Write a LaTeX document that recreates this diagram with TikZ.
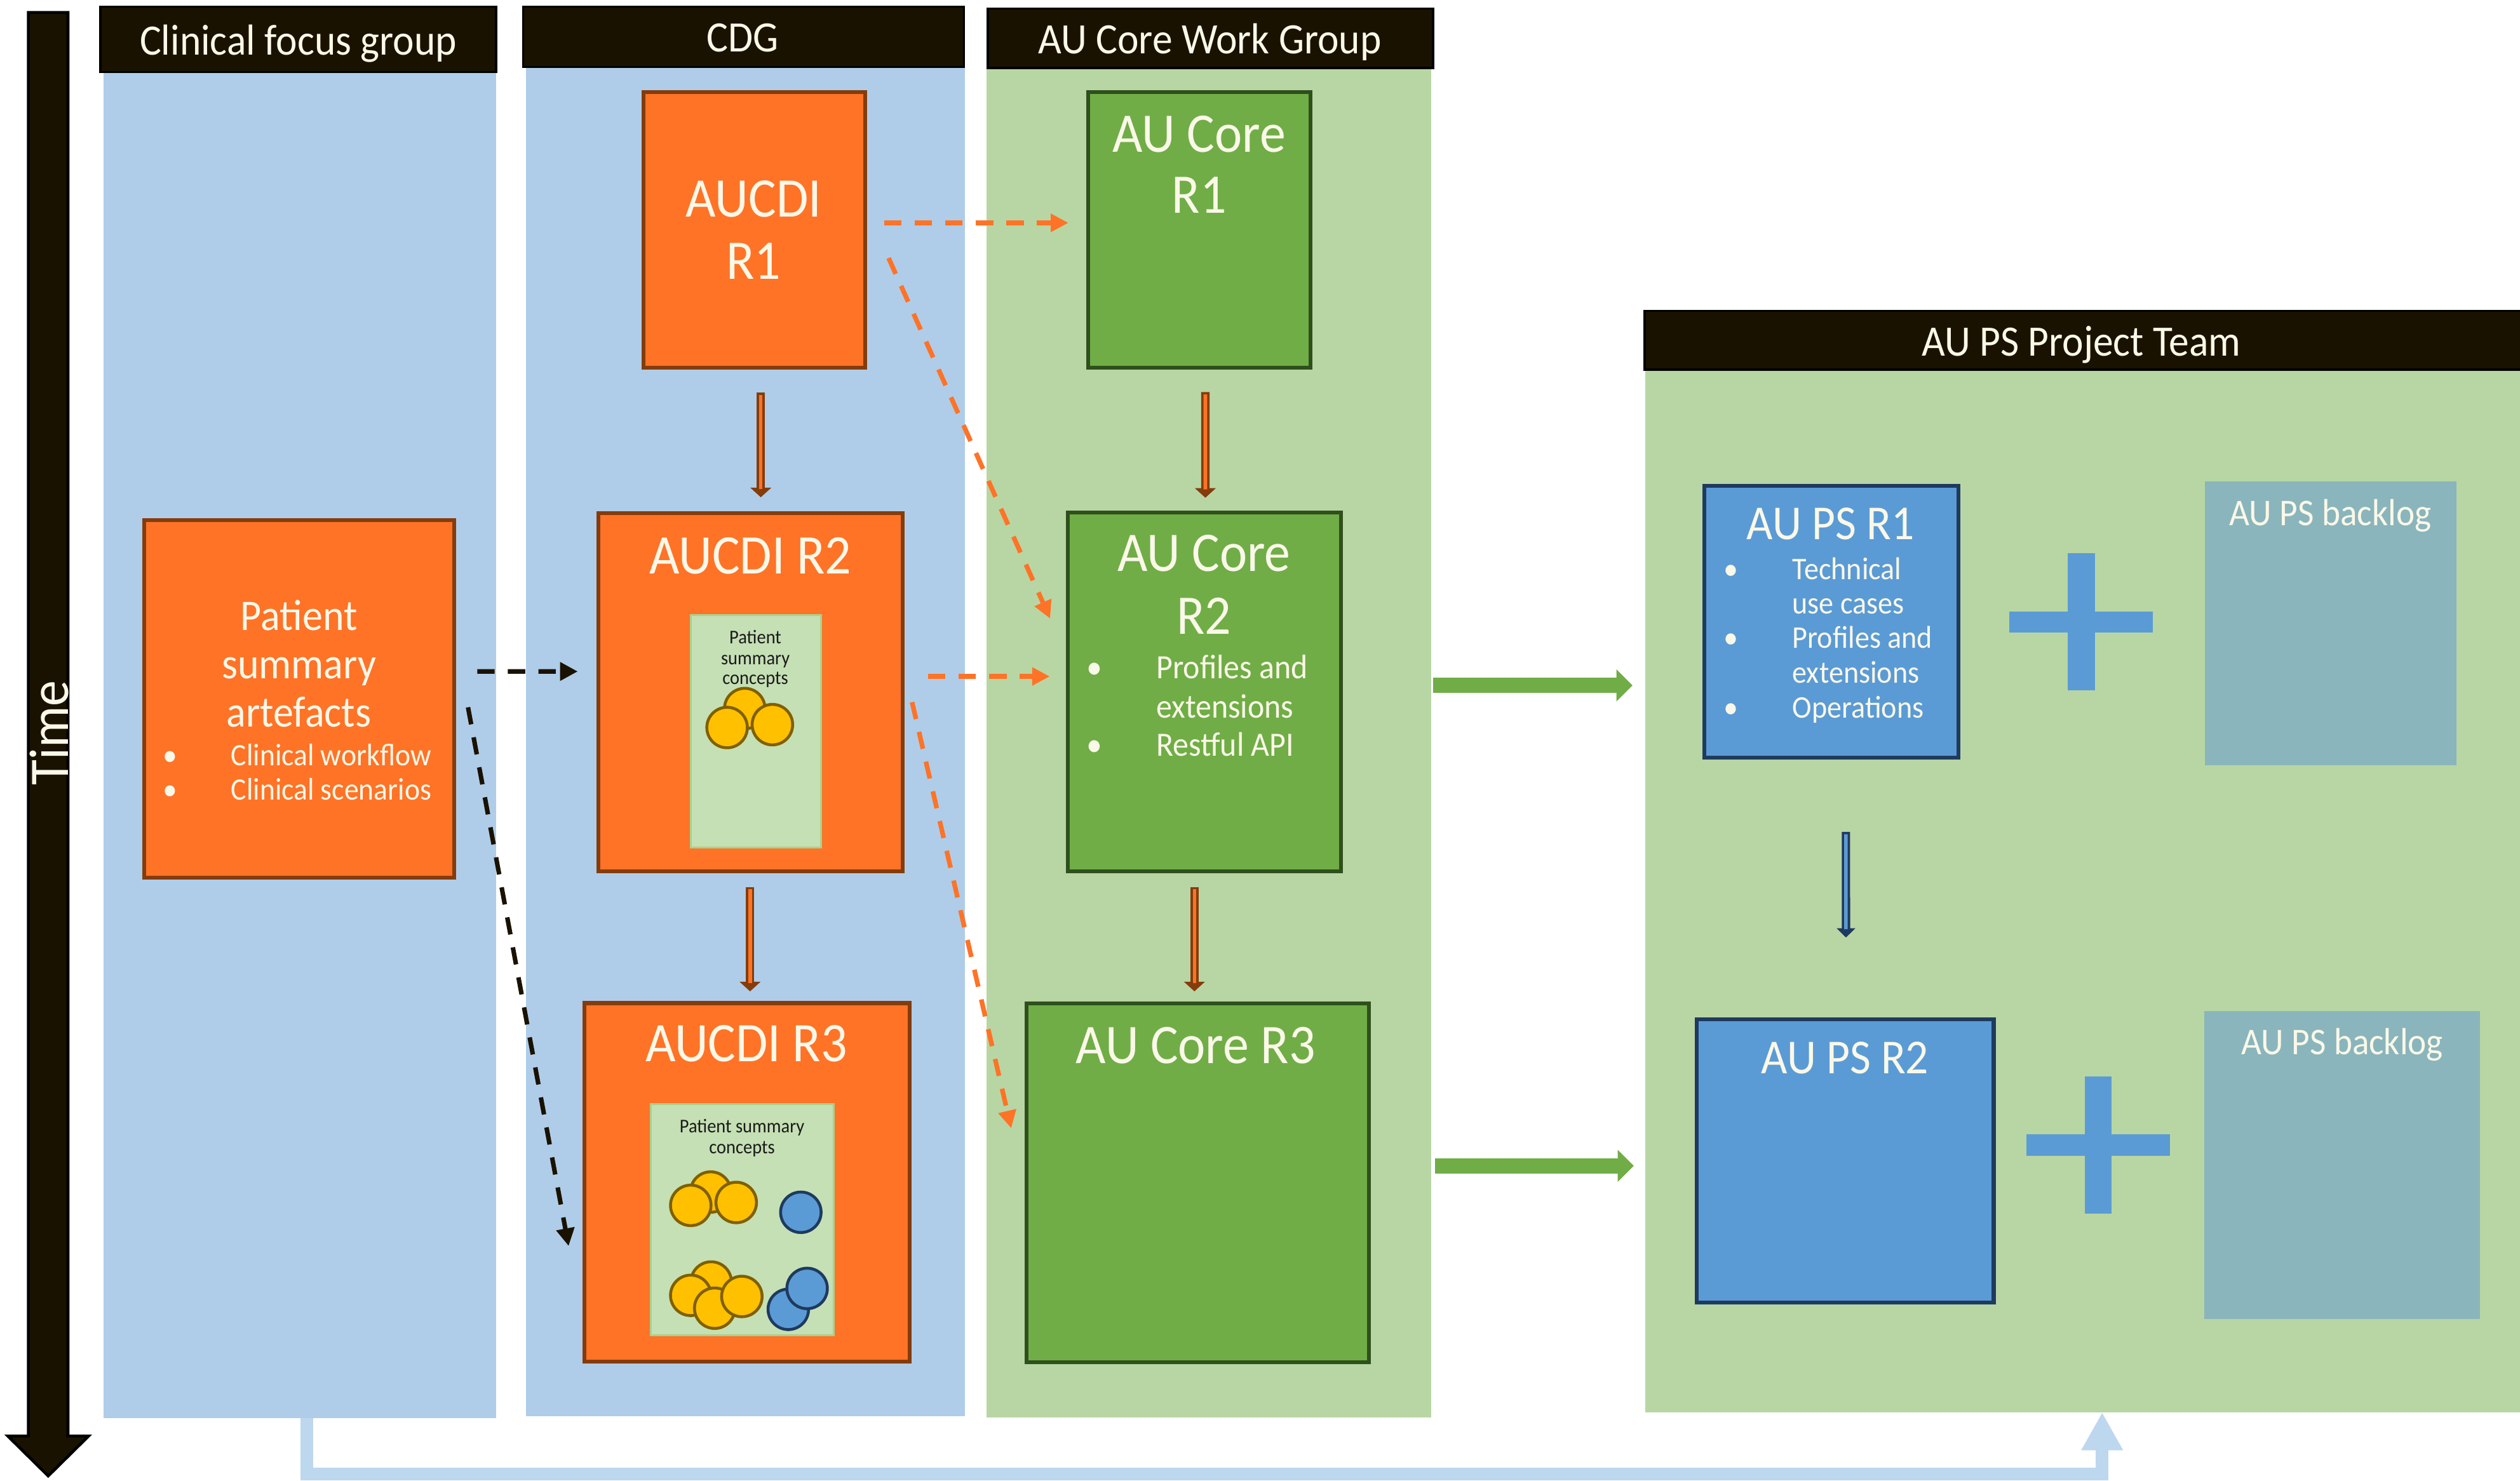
\documentclass[tikz,border=0pt]{standalone}
\usepackage{fontspec}
\setmainfont{Carlito}[FakeStretch=0.93]
\usetikzlibrary{arrows.meta,fit}
\definecolor{chdr}{HTML}{1A1200}
\definecolor{ccolblue}{HTML}{AFCDE9}
\definecolor{ccolgreen}{HTML}{B8D6A4}
\definecolor{cobox}{HTML}{FF7327}
\definecolor{coedge}{HTML}{843C0C}
\definecolor{cgbox}{HTML}{70AD47}
\definecolor{cgedge}{HTML}{2F4F1C}
\definecolor{ccbox}{HTML}{C5E0B4}
\definecolor{ccedge}{HTML}{A9D18E}
\definecolor{cbbox}{HTML}{5B9BD5}
\definecolor{cbedge}{HTML}{1F3A5F}
\definecolor{cblog}{HTML}{8AB5BC}
\definecolor{cylw}{HTML}{FFC000}
\definecolor{cyedge}{HTML}{7F6000}
\definecolor{ccream}{HTML}{FAF8E8}
\definecolor{clbl}{HTML}{BDD7EE}
\definecolor{cdark}{HTML}{1A1A1A}
\tikzset{
  area/.style={draw=none, inner sep=0pt, outer sep=0pt},
  hdrbox/.style={fill=chdr, draw=black, line width=0.7pt, inner sep=0pt, outer sep=0pt},
  orangebox/.style={fill=cobox, draw=coedge, line width=1.2pt, inner sep=0pt, outer sep=0pt},
  greenbox/.style={fill=cgbox, draw=cgedge, line width=1.2pt, inner sep=0pt, outer sep=0pt},
  bluebox/.style={fill=cbbox, draw=cbedge, line width=1.2pt, inner sep=0pt, outer sep=0pt},
  conceptbox/.style={fill=ccbox, draw=ccedge, line width=0.6pt, inner sep=0pt, outer sep=0pt},
  backlogbox/.style={fill=cblog, draw=none, inner sep=0pt, outer sep=0pt},
  ycirc/.style={circle, fill=cylw, draw=cyedge, line width=0.9pt, minimum size=12.6pt, inner sep=0pt},
  bcirc/.style={circle, fill=cbbox, draw=cbedge, line width=0.9pt, minimum size=12.6pt, inner sep=0pt},
  txt/.style={text=ccream, inner sep=0pt, outer sep=0pt, anchor=base},
  txtl/.style={txt, anchor=base west},
  fhead/.style={font=\fontsize{13.5pt}{16pt}\selectfont},
  ftitle/.style={font=\fontsize{17.4pt}{20pt}\selectfont},
  fps/.style={font=\fontsize{15.2pt}{18pt}\selectfont},
  fblog/.style={font=\fontsize{11.75pt}{14pt}\selectfont},
  fpsa/.style={font=\fontsize{13.6pt}{16pt}\selectfont},
  fbulA/.style={font=\fontsize{9.7pt}{12pt}\selectfont},
  fbulB/.style={font=\fontsize{10.6pt}{13pt}\selectfont},
  fbulC/.style={font=\fontsize{9.8pt}{12pt}\selectfont},
  fcon/.style={font=\fontsize{6.05pt}{7.5pt}\selectfont, text=cdark},
  ftime/.style={font=\fontsize{17.4pt}{20pt}\selectfont},
  odash/.style={draw=cobox, line width=1.45pt, dash pattern=on 5.4pt off 4.1pt, -{Triangle[length=5.5pt,width=5.4pt]}},
  kdash/.style={draw=chdr, line width=1.4pt, dash pattern=on 5.4pt off 4.1pt, -{Triangle[length=5.5pt,width=5.5pt]}},
  greenarr/.style={draw=cgbox, line width=4.75pt, -{Triangle[length=5pt,width=9.65pt]}},
  hollowout/.style={line width=2.6pt, -{Triangle[length=3pt,width=6.4pt]}},
  hollowoutb/.style={line width=2.6pt, -{Triangle[length=2.9pt,width=5.7pt]}},
  hollowin/.style={line width=1.1pt, shorten <=0.75pt, shorten >=2.6pt},
  lbarrow/.style={draw=clbl, line width=4pt, line join=miter, -{Triangle[length=11.8pt,width=12.15pt]}},
}
\begin{document}
\begin{tikzpicture}[x=0.5pt,y=-0.5pt]
\useasboundingbox (0,0) rectangle (1568,921.75);
\fill[white] (0,0) rectangle (1568,921.75);

% Time arrow
\draw[fill=chdr, draw=black, line width=0.9pt, line join=miter]
  (17.6,7.8) -- (42.3,7.8) -- (42.3,893.7) -- (55.2,893.7) -- (30,918.6) -- (4.8,893.7) -- (17.6,893.7) -- cycle;
\node[txt, ftime, rotate=90, anchor=center] (timelbl) at (30.5,456) {Time};

% column backgrounds
\node[area, fill=ccolblue, fit={(64.5,44.8)(308.7,882.5)}] (col1bg) {};
\node[area, fill=ccolblue, fit={(327.4,41.7)(600.3,881.3)}] (col2bg) {};
\node[area, fill=ccolgreen, fit={(613.7,42.3)(890.4,882.2)}] (col3bg) {};
\node[area, fill=ccolgreen, fit={(1023.7,230)(1568,879)}] (col4bg) {};

% headers
\node[hdrbox, fit={(62.5,4.2)(308.7,44.8)}] (hd1) {};
\node[hdrbox, fit={(325.5,4.2)(599.8,41.7)}] (hd2) {};
\node[hdrbox, fit={(614.6,5.3)(891.7,42.3)}] (hd3) {};
\node[hdrbox, fit={(1023.3,193.5)(1569,230)}] (hd4) {};
\node[txt, fhead] (hd1t) at (185.6,34.2) {Clinical focus group};
\node[txt, fhead] (hd2t) at (462,32.4) {CDG};
\node[txt, fhead] (hd3t) at (752.8,33.5) {AU Core Work Group};
\node[txt, fhead] (hd4t) at (1295,221.5) {AU PS Project Team};

% boxes
\node[orangebox, fit={(89.9,323.6)(282.5,546.3)}] (psa) {};
\node[orangebox, fit={(400.5,57.2)(538.4,228.7)}] (aucdi1) {};
\node[orangebox, fit={(372.4,319.4)(561.8,542.4)}] (aucdi2) {};
\node[orangebox, fit={(363.5,624.3)(566,847.4)}] (aucdi3) {};
\node[conceptbox, fit={(429.7,383)(510.7,527.6)}] (con2) {};
\node[conceptbox, fit={(405,687)(518.8,831)}] (con3) {};
\node[greenbox, fit={(677,57.2)(815.3,228.7)}] (core1) {};
\node[greenbox, fit={(664.5,319)(834.4,542.3)}] (core2) {};
\node[greenbox, fit={(638.7,624.5)(851.8,848)}] (core3) {};
\node[bluebox, fit={(1060.3,302.2)(1218.7,471.6)}] (ps1) {};
\node[bluebox, fit={(1055.8,634.3)(1240.5,810.8)}] (ps2) {};
\node[backlogbox, fit={(1372,299.8)(1528.5,476.3)}] (blog1) {};
\node[backlogbox, fit={(1371.7,629.1)(1543.2,820.8)}] (blog2) {};

% plus signs
\fill[cbbox] (1250,380.5) rectangle (1339.5,393.7);
\fill[cbbox] (1286.6,344.4) rectangle (1303.5,429.8);
\fill[cbbox] (1261,706) rectangle (1350.2,719.3);
\fill[cbbox] (1297.4,670) rectangle (1313.8,755.3);

% circles in AUCDI R2
\node[ycirc] (c2a) at (463.4,441) {};
\node[ycirc] (c2b) at (452.4,452.8) {};
\node[ycirc] (c2c) at (480.6,451) {};
% circles in AUCDI R3
\node[ycirc] (c3a) at (442.2,741.9) {};
\node[ycirc] (c3b) at (429.8,750.2) {};
\node[ycirc] (c3c) at (458.1,748.4) {};
\node[bcirc] (c3d) at (498.3,754.5) {};
\node[ycirc] (c3e) at (442.5,797.9) {};
\node[ycirc] (c3f) at (429.8,806.2) {};
\node[ycirc] (c3g) at (444.7,814.2) {};
\node[ycirc] (c3h) at (461.6,806.9) {};
\node[bcirc] (c3i) at (490.5,814.9) {};
\node[bcirc] (c3j) at (502.2,801.9) {};

% texts: orange boxes
\node[txt, fpsa] (psat1) at (186,392.4) {Patient};
\node[txt, fpsa] (psat2) at (186,422.4) {summary};
\node[txt, fpsa] (psat3) at (186,452.4) {artefacts};
\node[txt, fbulA] (psab1) at (105.9,476.4) {•};
\node[txtl, fbulA] (psal1) at (143.8,476.4) {Clinical workflow};
\node[txt, fbulA] (psab2) at (105.9,498) {•};
\node[txtl, fbulA] (psal2) at (143.8,498) {Clinical scenarios};

\node[txt, ftitle] (a1t1) at (468.9,134.8) {AUCDI};
\node[txt, ftitle] (a1t2) at (468.9,173.6) {R1};
\node[txt, ftitle] (a2t) at (466.9,357.1) {AUCDI R2};
\node[txt, ftitle] (a3t) at (464.4,660.7) {AUCDI R3};
\node[txt, fcon] (con2t1) at (470,400.5) {Patient};
\node[txt, fcon] (con2t2) at (470,413.6) {summary};
\node[txt, fcon] (con2t3) at (470,426) {concepts};
\node[txt, fcon] (con3t1) at (461.7,705.1) {Patient summary};
\node[txt, fcon] (con3t2) at (461.7,717.8) {concepts};

% texts: green boxes
\node[txt, ftitle] (k1t1) at (746.2,94.6) {AU Core};
\node[txt, ftitle] (k1t2) at (746.2,132.7) {R1};
\node[txt, ftitle] (k2t1) at (749.2,355.4) {AU Core};
\node[txt, ftitle] (k2t2) at (749.2,394.5) {R2};
\node[txt, fbulB] (k2b1) at (681,422.4) {•};
\node[txtl, fbulB] (k2l1) at (719.5,422.4) {Profiles and};
\node[txtl, fbulB] (k2l2) at (719.5,446.8) {extensions};
\node[txt, fbulB] (k2b2) at (681,470.4) {•};
\node[txtl, fbulB] (k2l3) at (719.5,470.4) {Restful API};
\node[txt, ftitle] (k3t) at (744,661.8) {AU Core R3};

% texts: AU PS
\node[txt, fps] (p1t) at (1139,335.7) {AU PS R1};
\node[txt, fbulC] (p1b1) at (1077.2,360.6) {•};
\node[txtl, fbulC] (p1l1) at (1115.3,360.6) {Technical};
\node[txtl, fbulC] (p1l2) at (1115.3,382.1) {use cases};
\node[txt, fbulC] (p1b2) at (1077.2,403.4) {•};
\node[txtl, fbulC] (p1l3) at (1115.3,403.4) {Profiles and};
\node[txtl, fbulC] (p1l4) at (1115.3,425.2) {extensions};
\node[txt, fbulC] (p1b3) at (1077.2,446.7) {•};
\node[txtl, fbulC] (p1l5) at (1115.3,446.7) {Operations};
\node[txt, fps] (p2t) at (1148,668) {AU PS R2};
\node[txt, fblog] (bl1t) at (1450,326.9) {AU PS backlog};
\node[txt, fblog] (bl2t) at (1457.4,656.2) {AU PS backlog};

% hollow arrows
\draw[hollowout, draw=coedge] ([shift={(3.95,15.5)}]aucdi1.south) -- ([shift={(6.3,-9.9)}]aucdi2.north);
\draw[hollowin, draw=cobox] ([shift={(3.95,15.5)}]aucdi1.south) -- ([shift={(6.3,-9.9)}]aucdi2.north);
\draw[hollowout, draw=coedge] ([shift={(-0.4,9.6)}]aucdi2.south) -- ([shift={(1.95,-7.3)}]aucdi3.north);
\draw[hollowin, draw=cobox] ([shift={(-0.4,9.6)}]aucdi2.south) -- ([shift={(1.95,-7.3)}]aucdi3.north);
\draw[hollowout, draw=coedge] ([shift={(3.85,15.3)}]core1.south) -- ([shift={(0.55,-9.2)}]core2.north);
\draw[hollowin, draw=cobox] ([shift={(3.85,15.3)}]core1.south) -- ([shift={(0.55,-9.2)}]core2.north);
\draw[hollowout, draw=coedge] ([shift={(-6.25,9.7)}]core2.south) -- ([shift={(-2.05,-7.5)}]core3.north);
\draw[hollowin, draw=cobox] ([shift={(-6.25,9.7)}]core2.south) -- ([shift={(-2.05,-7.5)}]core3.north);
\draw[hollowoutb, draw=cbedge] ([shift={(9.05,46.1)}]ps1.south) -- ([shift={(0.45,-50.8)}]ps2.north);
\draw[hollowin, draw=cbbox] ([shift={(9.05,46.1)}]ps1.south) -- ([shift={(0.45,-50.8)}]ps2.north);

% dashed orange arrows
\draw[odash] ([shift={(11.8,-4.25)}]aucdi1.east) -- ([shift={(-12.2,-4.25)}]core1.west);
\draw[odash] ([shift={(14.5,17.65)}]aucdi1.east) -- ([shift={(-11.1,-45.65)}]core2.west);
\draw[odash] ([shift={(15.7,-9.9)}]aucdi2.east) -- ([shift={(-11.3,-9.65)}]core2.west);
\draw[odash] ([shift={(5.7,6.1)}]aucdi2.east) -- ([shift={(-9.5,-34.05)}]core3.west);

% dashed black arrows
\draw[kdash] ([shift={(14.5,-17.05)}]psa.east) -- ([shift={(-12.9,-13)}]aucdi2.west);
\draw[kdash] ([shift={(8.7,5.25)}]psa.east) -- ([shift={(-9.7,39.65)}]aucdi3.west);

% green arrows
\coordinate (g1s) at ([shift={(1.3,-35.65)}]col3bg.east);
\coordinate (g2s) at ([shift={(2.6,263.35)}]col3bg.east);
\draw[greenarr, shorten >=3.95pt] (g1s) -- (g1s -| col4bg.west);
\draw[greenarr, shorten >=3.55pt] (g2s) -- (g2s -| col4bg.west);

% light blue return arrow
\coordinate (ls) at ([shift={(4.4,0)}]col1bg.south);
\coordinate (le) at ([shift={(12.15,0)}]col4bg.south);
\draw[lbarrow] (ls) -- ++(0,35) -| (le);
\end{tikzpicture}
\end{document}
